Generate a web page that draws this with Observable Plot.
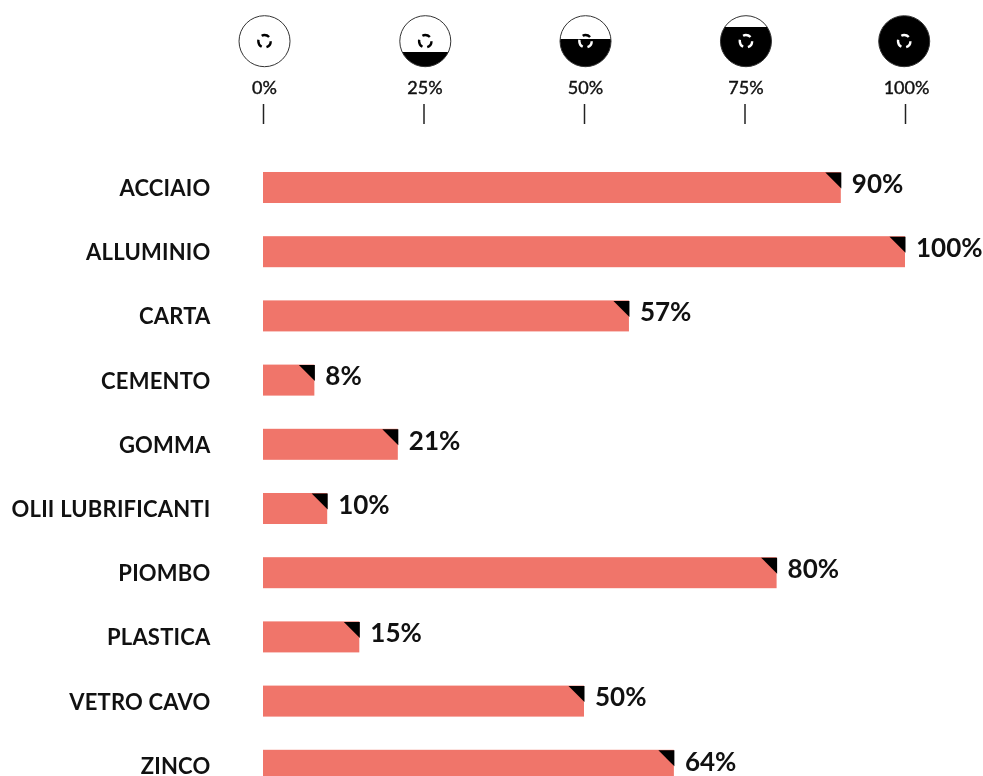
<!DOCTYPE html>
<html><head><meta charset="utf-8">
<script src="https://cdn.jsdelivr.net/npm/d3@7"></script>
<script src="https://cdn.jsdelivr.net/npm/@observablehq/plot@0.6"></script>
<style>html,body{margin:0;padding:0;background:#fff;overflow:hidden}svg{display:block}
[aria-label="y-axis tick label"]{letter-spacing:.2px}
[aria-label="x-axis tick label"]{stroke:#111;stroke-width:.4px}
</style>
</head><body><div id="chart"></div>
<script>
const materials = ["ACCIAIO","ALLUMINIO","CARTA","CEMENTO","GOMMA","OLII LUBRIFICANTI","PIOMBO","PLASTICA","VETRO CAVO","ZINCO"];
const shares = [90,100,57,8,21,10,80,15,50,64];
const scaleTicks = [0,25,50,75,100];
const gaugeAt = [0.16,25.2,50.16,75.15,99.8];
const gaugeLevels = [0,0.29,0.54,0.77,1];

const rows = materials.map((m,i)=>({m,v:shares[i]}));
const gauges = scaleTicks.map((t,i)=>({t,at:gaugeAt[i],level:gaugeLevels[i]}));
const font = "Lato, sans-serif";

const corner = {draw(ctx){ctx.moveTo(-16,-15.5);ctx.lineTo(0,-15.5);ctx.lineTo(0,0.5);ctx.closePath();}};

function gradients(){
  const ns="http://www.w3.org/2000/svg";
  const defs=document.createElementNS(ns,"defs");
  gauges.forEach(g=>{
    const lg=document.createElementNS(ns,"linearGradient");
    lg.setAttribute("id","lvl"+g.t);
    lg.setAttribute("x1","0");lg.setAttribute("x2","0");lg.setAttribute("y1","1");lg.setAttribute("y2","0");
    [[g.level,"#000"],[g.level,"#fff"]].forEach(([o,c])=>{
      const s=document.createElementNS(ns,"stop");
      s.setAttribute("offset",o);s.setAttribute("stop-color",c);lg.appendChild(s);
    });
    defs.appendChild(lg);
  });
  return defs;
}

const chart = Plot.plot({
  width:983,height:776,
  marginLeft:263,marginRight:78,marginTop:123,marginBottom:0,
  style:{fontFamily:font,background:"#fff",color:"#111"},
  x:{domain:[0,100],axis:null},
  y:{domain:materials,range:[155.4,797.4],paddingInner:0.517,paddingOuter:0.2585,round:false,axis:null},
  marks:[
    gradients,
    Plot.barX(rows,{x:"v",y:"m",fill:"#f0756a"}),
    Plot.dot(rows,{x:"v",y:"m",symbol:corner,r:10,fill:"#000",stroke:null}),
    Plot.text(rows,{x:"v",y:"m",text:d=>d.v+"%",textAnchor:"start",dx:10.5,dy:-3.5,fontSize:26,fontWeight:700,fill:"#111",fontFamily:font}),
    Plot.axisY({tickSize:0,tickPadding:53,dy:1,fontSize:22,fontWeight:700,fill:"#111",label:null,fontFamily:font}),
    Plot.axisX({anchor:"top",ticks:scaleTicks,tickSize:20,text:null,stroke:"#222",strokeWidth:1.5,label:null}),
    Plot.axisX({anchor:"top",ticks:scaleTicks,tickFormat:d=>d+"%",tickSize:0,tickPadding:30,dx:1,fontSize:18,fontWeight:400,fill:"#111",label:null,fontFamily:font}),
    Plot.dot(gauges,{x:"at",frameAnchor:"top",dy:-82.3,r:25.5,fill:d=>`url(#lvl${d.t})`,stroke:"#333",strokeWidth:1}),
    Plot.dot(gauges,{x:"at",frameAnchor:"top",dy:-82.3,r:6.2,fill:"none",stroke:"#fff",strokeWidth:2.4,strokeDasharray:"8 5",strokeDashoffset:0.55,mixBlendMode:"difference"})
  ]
});
document.getElementById("chart").appendChild(chart);
</script></body></html>
